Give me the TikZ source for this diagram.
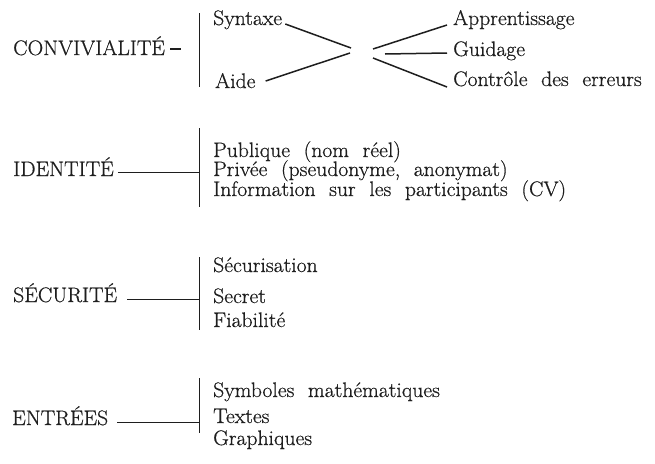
\documentclass[tikz,border=0pt]{standalone}
\usepackage{fontspec}
\usetikzlibrary{calc}
\newfontfamily\reffont{Latin Modern Roman}[FakeBold=0.6,FakeStretch=1.03]
\definecolor{ink}{HTML}{1E1E1E}
\newcommand\fsz{\reffont\fontsize{21}{25}\selectfont\spaceskip=0.65em plus 0.1em\relax}
\begin{document}
\begin{tikzpicture}[x=1pt,y=-1pt,
  txt/.style={anchor=base west,inner sep=0pt,font=\fsz,text=ink},
  ln/.style={line width=1pt,draw=ink},
  dg/.style={line width=1.5pt,draw=ink}]
\useasboundingbox[fill=white] (0,0) rectangle (655,463);
% ---- CONVIVIALITE
\node[txt] (conv) at (13,55) {CONVIVIALITÉ};
\coordinate (v1t) at (199.5,13);
\coordinate (v1b) at (199.5,87);
\coordinate (d1s) at ($(conv.base east)+(5,-6)$);
\coordinate (d1e) at ($(d1s)+(11,0)$);
\draw[ln] (v1t) -- (v1b);
\draw[line width=1.3pt,draw=ink] (d1s) -- (d1e);
\node[txt] (syn) at (213,25) {Syntaxe};
\node[txt] (aide) at (215,88) {Aide};
\node[txt] (app) at (453,25) {Apprentissage};
\node[txt] (gui) at (453,56) {Guidage};
\node[txt] (ctl) at (453,86) {Contrôle des erreurs};
\coordinate (m1) at (351,48);
\coordinate (m2) at (350,53);
\coordinate (m3) at (373,49);
\coordinate (m4) at (385,54);
\coordinate (m5) at (373,58);
\draw[dg] ($(syn.base east)+(3,-1)$) -- (m1);
\draw[dg] ($(aide.base east)+(10,-7)$) -- (m2);
\draw[dg] ($(app.base west)+(-6,0)$) -- (m3);
\draw[dg] ($(gui.base west)+(-6,-3)$) -- (m4);
\draw[dg] ($(ctl.base west)+(-6,1)$) -- (m5);
% ---- IDENTITE
\node[txt] (iden) at (13,176) {IDENTITÉ};
\coordinate (v2t) at (199,128);
\coordinate (v2b) at (199,207);
\coordinate (h2) at (199,172);
\coordinate (h2s) at ($(iden.base east)+(4,-4)$);
\draw[ln] (v2t) -- (v2b);
\draw[ln] (h2s) -- (h2);
\node[txt] (pub) at (213,157) {Publique (nom réel)};
\node[txt] (priv) at (213,176) {Privée (pseudonyme, anonymat)};
\node[txt] (info) at (213,196) {Information sur les participants (CV)};
% ---- SECURITE
\node[txt] (secu) at (13,302) {SÉCURITÉ};
\coordinate (v3t) at (199,257);
\coordinate (v3b) at (199,330);
\coordinate (h3) at (199,299);
\coordinate (h3s) at ($(secu.base east)+(10,-3)$);
\draw[ln] (v3t) -- (v3b);
\draw[ln] (h3s) -- (h3);
\node[txt] (sec1) at (213,272) {Sécurisation};
\node[txt] (sec2) at (213,303) {Secret};
\node[txt] (sec3) at (213,327) {Fiabilité};
% ---- ENTREES
\node[txt] (entr) at (12,425) {ENTRÉES};
\coordinate (v4t) at (199,378);
\coordinate (v4b) at (199,433);
\coordinate (h4) at (199,422);
\coordinate (h4s) at ($(entr.base east)+(9,-3)$);
\draw[ln] (v4t) -- (v4b);
\draw[ln] (h4s) -- (h4);
\node[txt] (ent1) at (213,397) {Symboles mathématiques};
\node[txt] (ent2) at (213,423) {Textes};
\node[txt] (ent3) at (213,445) {Graphiques};
\end{tikzpicture}
\end{document}
